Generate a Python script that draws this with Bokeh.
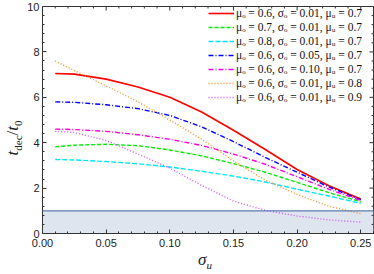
import math
from bokeh.plotting import figure
from bokeh.models import (Range1d, FixedTicker, Legend, LegendItem, Div,
                          BoxAnnotation, Span, NumeralTickFormatter)
from bokeh.layouts import row, column
from bokeh.embed import file_html
from bokeh.resources import INLINE

# ---- data ----
sigma_u = [0.01, 0.025, 0.05, 0.075, 0.10, 0.125, 0.15, 0.175, 0.20, 0.225, 0.25]
t_red     = [7.05, 7.02, 6.80, 6.45, 6.00, 5.35, 4.55, 3.70, 2.82, 2.10, 1.52]
t_green   = [3.82, 3.89, 3.93, 3.87, 3.68, 3.42, 3.08, 2.70, 2.25, 1.80, 1.40]
t_cyan    = [3.26, 3.24, 3.17, 3.07, 2.93, 2.74, 2.53, 2.27, 1.95, 1.65, 1.33]
t_blue    = [5.80, 5.78, 5.67, 5.50, 5.20, 4.70, 4.05, 3.35, 2.70, 2.05, 1.48]
t_magenta = [4.60, 4.58, 4.50, 4.35, 4.15, 3.88, 3.50, 3.05, 2.50, 1.95, 1.45]
t_orange  = [7.60, 7.18, 6.50, 5.80, 5.00, 4.15, 3.20, 2.35, 1.72, 1.20, 0.87]
t_purple  = [4.50, 4.45, 4.10, 3.50, 2.88, 2.12, 1.43, 1.02, 0.77, 0.60, 0.50]

labels = [
    "μₒ = 0.6, σₒ = 0.01, μᵤ = 0.7",
    "μₒ = 0.7, σₒ = 0.01, μᵤ = 0.7",
    "μₒ = 0.8, σₒ = 0.01, μᵤ = 0.7",
    "μₒ = 0.6, σₒ = 0.05, μᵤ = 0.7",
    "μₒ = 0.6, σₒ = 0.10, μᵤ = 0.7",
    "μₒ = 0.6, σₒ = 0.01, μᵤ = 0.8",
    "μₒ = 0.6, σₒ = 0.01, μᵤ = 0.9",
]
series = [t_red, t_green, t_cyan, t_blue, t_magenta, t_orange, t_purple]
threshold = 1.0
x_ticks = [0.0, 0.05, 0.10, 0.15, 0.20, 0.25]
y_ticks = [0, 2, 4, 6, 8, 10]
x_minor = [i / 100 for i in range(0, 27) if i % 5 != 0]
y_minor = [round(i * 0.4, 1) for i in range(0, 26) if i % 5 != 0]
x_max, y_max = 0.26, 10

# ---- styles ----
colors = ["#ff0000", "#00ee00", "#00e5ff", "#0000ff", "#ff00dd", "#ff9020", "#cc55ff"]
dashes = ["solid", "4 2", "5 2", "5 2 1 2", "5 2 1 2", "1 2", "1 2"]
widths = [1.6, 1.4, 1.4, 1.4, 1.4, 1.4, 1.4]
frame_col = "#333333"

p = figure(width=350, height=254, output_backend="svg", toolbar_location=None,
           x_range=Range1d(0, x_max), y_range=Range1d(0, y_max),
           min_border_left=17, min_border_right=1, min_border_top=6, min_border_bottom=21,
           margin=0)
p.grid.visible = False
p.outline_line_color = frame_col
p.background_fill_color = "white"

p.add_layout(BoxAnnotation(bottom=0, top=threshold, fill_color="#dfe5ef", fill_alpha=1.0,
                           line_alpha=0, level="underlay"))
p.add_layout(Span(location=threshold, dimension="width", line_color="#5b7db0", line_width=1.2))

items = []
for ys, c, d, w, lab in zip(series, colors, dashes, widths, labels):
    r = p.line(sigma_u, ys, line_color=c, line_dash=d, line_width=w)
    items.append(LegendItem(label=lab, renderers=[r]))

# inward ticks on the top and right frame edges (half of each dash is clipped by the frame)
p.scatter(x_ticks, [y_max] * len(x_ticks), marker="dash", angle=math.pi / 2, size=8,
          line_color=frame_col, line_width=1)
p.scatter(x_minor, [y_max] * len(x_minor), marker="dash", angle=math.pi / 2, size=4,
          line_color=frame_col, line_width=1)
p.scatter([x_max] * len(y_ticks), y_ticks, marker="dash", size=8,
          line_color=frame_col, line_width=1)
p.scatter([x_max] * len(y_minor), y_minor, marker="dash", size=4,
          line_color=frame_col, line_width=1)

for ax in (p.xaxis[0], p.yaxis[0]):
    ax.axis_line_color = frame_col
    ax.major_tick_in = 4
    ax.major_tick_out = 0
    ax.minor_tick_in = 2
    ax.minor_tick_out = 0
    ax.major_tick_line_color = frame_col
    ax.minor_tick_line_color = frame_col
    ax.major_label_text_font = "Liberation Sans"
    ax.major_label_text_font_size = "11px"
    ax.major_label_text_color = "#222222"

p.xaxis.ticker = FixedTicker(ticks=x_ticks, minor_ticks=x_minor)
p.yaxis.ticker = FixedTicker(ticks=y_ticks, minor_ticks=y_minor)
p.xaxis.formatter = NumeralTickFormatter(format="0.00")
p.xaxis.major_label_standoff = 5
p.yaxis.major_label_standoff = 3

leg = Legend(items=items, location="top_right")
leg.label_text_font = "Liberation Serif"
leg.label_text_font_size = "11.5px"
leg.label_text_color = "#111111"
leg.glyph_width = 26
leg.glyph_height = 14
leg.label_height = 14
leg.label_width = 137
leg.label_standoff = 2
leg.spacing = 0
leg.padding = 0
leg.margin = 0
leg.background_fill_alpha = 0
leg.border_line_alpha = 0
p.add_layout(leg, "center")

ylab_html = (
    '<div style="position:relative;width:24px;height:274px;overflow:visible;">'
    '<div style="position:absolute;left:13px;top:138px;transform:translate(-50%,-50%) rotate(-90deg);'
    'white-space:nowrap;font-family:\'Liberation Serif\';font-size:17px;line-height:16px;color:#222;">'
    '<i>t</i><sub style="font-size:11px;line-height:0;">dec</sub>/<i>t</i>'
    '<sub style="font-size:11px;line-height:0;">0</sub>'
    '</div></div>'
)
xlab_html = (
    '<div style="position:relative;width:350px;height:20px;overflow:visible;">'
    '<div style="position:absolute;left:174px;top:-3px;white-space:nowrap;'
    'font-family:\'Liberation Serif\';font-size:17px;line-height:17px;color:#222;">'
    '<i>σ</i><sub style="font-size:11px;line-height:0;"><i>u</i></sub>'
    '</div></div>'
)
ydiv = Div(text=ylab_html, width=24, height=274, margin=0, styles={"overflow": "visible"})
xdiv = Div(text=xlab_html, width=350, height=20, margin=0, styles={"overflow": "visible"})

layout = row(ydiv, column(p, xdiv, spacing=0), spacing=0)
open("out.html", "w").write(file_html(layout, INLINE))
